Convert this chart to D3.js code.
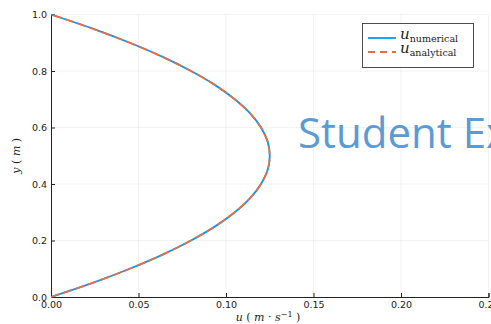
<!DOCTYPE html>
<html>
<head>
<meta charset="utf-8">
<script src="https://cdn.jsdelivr.net/npm/d3@7"></script>
<style>
  body { margin: 0; background: #fff; }
  svg { display: block; }
</style>
</head>
<body>
<div id="chart"></div>
<script>
// values
const yPos = [0, 0.05, 0.1, 0.15, 0.2, 0.25, 0.3, 0.35, 0.4, 0.45, 0.5,
              0.55, 0.6, 0.65, 0.7, 0.75, 0.8, 0.85, 0.9, 0.95, 1.0];
const uNumerical = [0, 0.0238, 0.045, 0.0638, 0.08, 0.0938, 0.105, 0.1138, 0.12, 0.1238, 0.125,
                    0.1238, 0.12, 0.1138, 0.105, 0.0938, 0.08, 0.0638, 0.045, 0.0238, 0];
const uAnalytical = [0, 0.0238, 0.045, 0.0638, 0.08, 0.0938, 0.105, 0.1138, 0.12, 0.1238, 0.125,
                     0.1238, 0.12, 0.1138, 0.105, 0.0938, 0.08, 0.0638, 0.045, 0.0238, 0];
const xTicks = [0, 0.05, 0.10, 0.15, 0.20, 0.25];
const yTicks = [0, 0.2, 0.4, 0.6, 0.8, 1.0];

const W = 491, H = 324;
const svg = d3.select("#chart").append("svg")
    .attr("width", W)
    .attr("height", H);

const x = d3.scaleLinear().domain([0, 0.25]).range([51, 488.5]);
const y = d3.scaleLinear().domain([0, 1]).range([297, 14.5]);

// grid
svg.append("g").selectAll("line")
    .data(xTicks.slice(1))
    .enter().append("line")
    .attr("x1", d => x(d)).attr("x2", d => x(d))
    .attr("y1", y(0)).attr("y2", y(1))
    .attr("stroke", "#000").attr("stroke-opacity", 0.1).attr("stroke-width", 0.5);
svg.append("g").selectAll("line")
    .data(yTicks.slice(1))
    .enter().append("line")
    .attr("x1", x(0)).attr("x2", x(0.25))
    .attr("y1", d => y(d)).attr("y2", d => y(d))
    .attr("stroke", "#000").attr("stroke-opacity", 0.1).attr("stroke-width", 0.5);

// axes
const xAxis = svg.append("g")
    .attr("transform", `translate(0,${y(0)})`)
    .call(d3.axisBottom(x).tickValues(xTicks).tickFormat(d3.format(".2f")).tickSize(-4).tickPadding(3));
const yAxis = svg.append("g")
    .attr("transform", `translate(${x(0)},0)`)
    .call(d3.axisLeft(y).tickValues(yTicks).tickFormat(d3.format(".1f")).tickSize(-4).tickPadding(3));
[xAxis, yAxis].forEach(g => {
  g.select(".domain").attr("stroke", "#222").attr("stroke-width", 1);
  g.selectAll(".tick line").attr("stroke", "#222");
  g.selectAll(".tick text").attr("fill", "#222")
    .style("font-family", "DejaVu Sans").style("font-size", "9.5px");
});
xAxis.selectAll(".tick text").attr("dy", "0.85em");
yAxis.selectAll(".tick text").attr("dx", "-1");

// watermark
svg.append("text")
    .attr("x", 298).attr("y", 148)
    .attr("fill", "#5b9bd5")
    .style("font-family", "Open Sans")
    .style("font-size", "42px")
    .text("Student Ex");

// curves
const line = d3.line().curve(d3.curveCatmullRom);
svg.append("path")
    .attr("d", line(yPos.map((v, i) => [x(uNumerical[i]), y(v)])))
    .attr("fill", "none").attr("stroke", "#009afa").attr("stroke-width", 1.8);
svg.append("path")
    .attr("d", line(yPos.map((v, i) => [x(uAnalytical[i]), y(v)])))
    .attr("fill", "none").attr("stroke", "#e36f47").attr("stroke-width", 1.8)
    .attr("stroke-dasharray", "9,4");

// axis labels
const lab = svg.append("text")
    .attr("x", 268).attr("y", 321)
    .attr("text-anchor", "middle")
    .style("font-family", "DejaVu Serif").style("font-size", "11px").attr("fill", "#222");
lab.append("tspan").style("font-style", "italic").text("u");
lab.append("tspan").text(" ( ");
lab.append("tspan").style("font-style", "italic").text("m");
lab.append("tspan").text(" · ");
lab.append("tspan").style("font-style", "italic").text("s");
lab.append("tspan").attr("dy", -4).style("font-size", "8px").text("−1");
lab.append("tspan").attr("dy", 4).text(" )");

const ylab = svg.append("text")
    .attr("transform", `translate(20,${y(0.5)}) rotate(-90)`)
    .attr("text-anchor", "middle")
    .style("font-family", "DejaVu Serif").style("font-size", "11px").attr("fill", "#222");
ylab.append("tspan").style("font-style", "italic").text("y");
ylab.append("tspan").text(" ( ");
ylab.append("tspan").style("font-style", "italic").text("m");
ylab.append("tspan").text(" )");

// legend
const leg = svg.append("g");
leg.append("rect")
    .attr("x", 362.5).attr("y", 23.5).attr("width", 111).attr("height", 44)
    .attr("fill", "#fff").attr("stroke", "#222").attr("stroke-width", 0.8);
const entries = [
  {name: "numerical", color: "#009afa", dash: null},
  {name: "analytical", color: "#e36f47", dash: "7,5"}
];
entries.forEach((e, i) => {
  const ly = 38 + i * 14;
  leg.append("line")
    .attr("x1", 368).attr("x2", 396).attr("y1", ly).attr("y2", ly)
    .attr("stroke", e.color).attr("stroke-width", 1.8)
    .attr("stroke-dasharray", e.dash);
  const t = leg.append("text").attr("x", 400).attr("y", ly + 1)
    .style("font-family", "DejaVu Serif").attr("fill", "#222");
  t.append("tspan").style("font-style", "italic").style("font-size", "15px").text("u");
  t.append("tspan").attr("dy", 3).style("font-size", "9.5px").text(e.name);
});
</script>
</body>
</html>
